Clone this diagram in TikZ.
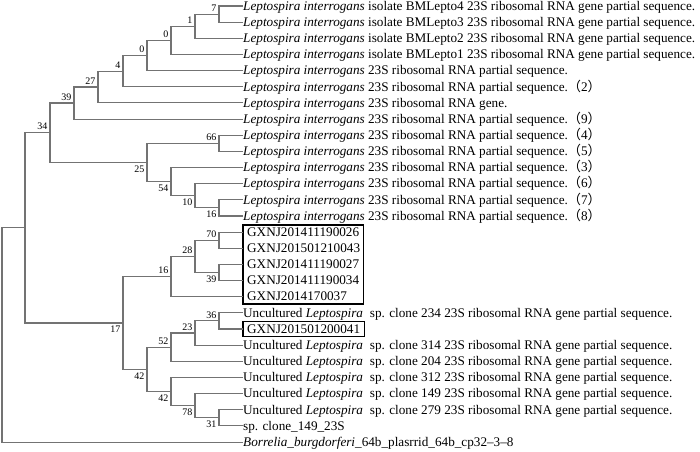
\documentclass[tikz,border=0pt]{standalone}
\usepackage{fontspec}
\setmainfont{Liberation Serif}
\newfontfamily\cjk{Noto Sans CJK SC}
\usetikzlibrary{positioning,fit}
\newcommand{\seqno}[1]{{\cjk （}#1{\cjk ）}}
\newcommand{\lint}{\textit{Leptospira interrogans}}
\newcommand{\unc}{Uncultured \textit{Leptospira}\hspace{3.5pt} sp. clone}

\begin{document}
\begin{tikzpicture}[x=1pt,y=-1pt]
\tikzstyle{every node}+=[inner sep=0pt]
\tikzstyle{leaf}=[anchor=west, text height=11pt, text depth=2.5pt, font=\fontsize{13.2}{15}\selectfont]
\tikzstyle{gx}=[leaf, inner xsep=4pt, minimum height=14pt]
\tikzstyle{branch}=[draw=black!55, line width=1.1pt]
\tikzstyle{isolates}=[draw=black, line width=1.3pt]
\tikzstyle{bup}=[above left=2.5pt and 2.5pt, font=\fontsize{10}{12}\selectfont]
\tikzstyle{bdown}=[below left=3pt and 2.5pt, font=\fontsize{10}{12}\selectfont]
\useasboundingbox (0,0) rectangle (700,451);
% leaves
\node [leaf] (l1) at (243,6) {\lint{} isolate BMLepto4 23S ribosomal RNA gene partial sequence.};
\node [leaf] (l2) at (243,22.2) {\lint{} isolate BMLepto3 23S ribosomal RNA gene partial sequence.};
\node [leaf] (l3) at (243,38.3) {\lint{} isolate BMLepto2 23S ribosomal RNA gene partial sequence.};
\node [leaf] (l4) at (243,54.5) {\lint{} isolate BMLepto1 23S ribosomal RNA gene partial sequence.};
\node [leaf] (l5) at (243,70.6) {\lint{} 23S ribosomal RNA partial sequence.};
\node [leaf] (l6) at (243,86.8) {\lint{} 23S ribosomal RNA partial sequence.\seqno{2}};
\node [leaf] (l7) at (243,102.9) {\lint{} 23S ribosomal RNA gene.};
\node [leaf] (l8) at (243,119.1) {\lint{} 23S ribosomal RNA partial sequence.\seqno{9}};
\node [leaf] (l9) at (243,135.2) {\lint{} 23S ribosomal RNA partial sequence.\seqno{4}};
\node [leaf] (l10) at (243,151.4) {\lint{} 23S ribosomal RNA partial sequence.\seqno{5}};
\node [leaf] (l11) at (243,167.5) {\lint{} 23S ribosomal RNA partial sequence.\seqno{3}};
\node [leaf] (l12) at (243,183.7) {\lint{} 23S ribosomal RNA partial sequence.\seqno{6}};
\node [leaf] (l13) at (243,199.8) {\lint{} 23S ribosomal RNA partial sequence.\seqno{7}};
\node [leaf] (l14) at (243,216) {\lint{} 23S ribosomal RNA partial sequence.\seqno{8}};
\node [gx] (l15) at (243,232.1) {GXNJ201411190026};
\node [gx] (l16) at (243,248.3) {GXNJ201501210043};
\node [gx] (l17) at (243,264.4) {GXNJ201411190027};
\node [gx] (l18) at (243,280.6) {GXNJ201411190034};
\node [gx] (l19) at (243,296.7) {GXNJ2014170037};
\node [leaf] (l20) at (243,312.9) {\unc{} 234 23S ribosomal RNA gene partial sequence.};
\node [gx] (l21) at (243,329) {GXNJ201501200041};
\node [leaf] (l22) at (243,345.2) {\unc{} 314 23S ribosomal RNA gene partial sequence.};
\node [leaf] (l23) at (243,361.3) {\unc{} 204 23S ribosomal RNA gene partial sequence.};
\node [leaf] (l24) at (243,377.5) {\unc{} 312 23S ribosomal RNA gene partial sequence.};
\node [leaf] (l25) at (243,393.6) {\unc{} 149 23S ribosomal RNA gene partial sequence.};
\node [leaf] (l26) at (243,409.8) {\unc{} 279 23S ribosomal RNA gene partial sequence.};
\node [leaf] (l27) at (243,425.9) {sp. clone\_149\_23S};
\node [leaf] (l28) at (243,442.1) {\textit{Borrelia\_burgdorferi}\_64b\_plasrrid\_64b\_cp32--3--8};
\node [isolates, fit=(l15)(l19)] (box1) {};
\node [isolates, fit=(l21)] (box2) {};
% internal nodes
\coordinate (n7) at (219,14.1);
\coordinate (n1) at (195,26.2);
\coordinate (n0a) at (171,40.3);
\coordinate (n0b) at (147,55.5);
\coordinate (n4) at (123,71.1);
\coordinate (n27) at (98,87);
\coordinate (n39) at (74,103);
\coordinate (n66) at (219,143.3);
\coordinate (n16a) at (219,207.9);
\coordinate (n10) at (195,195.8);
\coordinate (n54) at (171,181.6);
\coordinate (n25) at (147,162.4);
\coordinate (n34) at (50,132.7);
\coordinate (n70) at (219,240.2);
\coordinate (n39b) at (219,272.5);
\coordinate (n28) at (195,256.3);
\coordinate (n16b) at (171,276.5);
\coordinate (n36) at (219,320.9);
\coordinate (n23) at (195,333);
\coordinate (n52) at (171,347.2);
\coordinate (n31) at (219,417.8);
\coordinate (n78) at (195,405.7);
\coordinate (n42b) at (171,391.6);
\coordinate (n42a) at (147,369.4);
\coordinate (n17) at (123,323);
\coordinate (nA) at (25,227.9);
\coordinate (root) at (2,335);
% branches
\draw [branch] (n7) |- (l1.west);
\draw [branch] (n7) |- (l2.west);
\draw [branch] (n1) |- (n7);
\draw [branch] (n1) |- (l3.west);
\draw [branch] (n0a) |- (n1);
\draw [branch] (n0a) |- (l4.west);
\draw [branch] (n0b) |- (n0a);
\draw [branch] (n0b) |- (l5.west);
\draw [branch] (n4) |- (n0b);
\draw [branch] (n4) |- (l6.west);
\draw [branch] (n27) |- (n4);
\draw [branch] (n27) |- (l7.west);
\draw [branch] (n39) |- (n27);
\draw [branch] (n39) |- (l8.west);
\draw [branch] (n66) |- (l9.west);
\draw [branch] (n66) |- (l10.west);
\draw [branch] (n16a) |- (l13.west);
\draw [branch] (n16a) |- (l14.west);
\draw [branch] (n10) |- (l12.west);
\draw [branch] (n10) |- (n16a);
\draw [branch] (n54) |- (l11.west);
\draw [branch] (n54) |- (n10);
\draw [branch] (n25) |- (n66);
\draw [branch] (n25) |- (n54);
\draw [branch] (n34) |- (n39);
\draw [branch] (n34) |- (n25);
\draw [branch] (n70) |- (l15.west);
\draw [branch] (n70) |- (l16.west);
\draw [branch] (n39b) |- (l17.west);
\draw [branch] (n39b) |- (l18.west);
\draw [branch] (n28) |- (n70);
\draw [branch] (n28) |- (n39b);
\draw [branch] (n16b) |- (n28);
\draw [branch] (n16b) |- (l19.west);
\draw [branch] (n36) |- (l20.west);
\draw [branch] (n36) |- (l21.west);
\draw [branch] (n23) |- (n36);
\draw [branch] (n23) |- (l22.west);
\draw [branch] (n52) |- (n23);
\draw [branch] (n52) |- (l23.west);
\draw [branch] (n31) |- (l26.west);
\draw [branch] (n31) |- (l27.west);
\draw [branch] (n78) |- (l25.west);
\draw [branch] (n78) |- (n31);
\draw [branch] (n42b) |- (l24.west);
\draw [branch] (n42b) |- (n78);
\draw [branch] (n42a) |- (n52);
\draw [branch] (n42a) |- (n42b);
\draw [branch] (n17) |- (n16b);
\draw [branch] (n17) |- (n42a);
\draw [branch] (nA) |- (n34);
\draw [branch] (nA) |- (n17);
\draw [branch] (root) |- (nA);
\draw [branch] (root) |- (l28.west);
% bootstrap values
\node [bup] (b7) at (n7) {7};
\node [bup] (b1) at (n1) {1};
\node [bup] (b0a) at (n0a) {0};
\node [bup] (b0b) at (n0b) {0};
\node [bup] (b4) at (n4) {4};
\node [bup] (b27) at (n27) {27};
\node [bup] (b39) at (n39) {39};
\node [bup] (b34) at (n34) {34};
\node [bup] (b66) at (n66) {66};
\node [bdown] (b25) at (n25) {25};
\node [bdown] (b54) at (n54) {54};
\node [bdown] (b10) at (n10) {10};
\node [bdown] (b16a) at (n16a) {16};
\node [bup] (b70) at (n70) {70};
\node [bdown] (b39b) at (n39b) {39};
\node [bup] (b28) at (n28) {28};
\node [bup] (b16b) at (n16b) {16};
\node [bdown] (b17) at (n17) {17};
\node [bup] (b36) at (n36) {36};
\node [bup] (b23) at (n23) {23};
\node [bup] (b52) at (n52) {52};
\node [bdown] (b42a) at (n42a) {42};
\node [bdown] (b42b) at (n42b) {42};
\node [bdown] (b78) at (n78) {78};
\node [bdown] (b31) at (n31) {31};
\end{tikzpicture}
\end{document}
